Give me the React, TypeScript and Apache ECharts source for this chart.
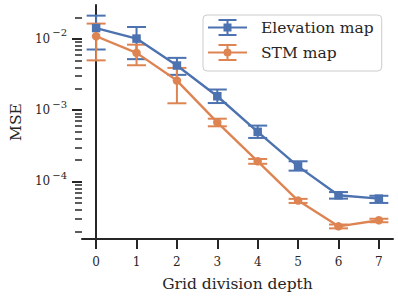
import React, { useEffect, useRef } from "react";
import * as echarts from "echarts";

const depth = [0, 1, 2, 3, 4, 5, 6, 7];
const elevMean = [0.0142, 0.0101, 0.00423, 0.00157, 0.000497, 0.000163, 0.000064, 0.0000575];
const elevLow = [0.0071, 0.0052, 0.00313, 0.00126, 0.000408, 0.000142, 0.0000575, 0.00005];
const elevHigh = [0.0212, 0.0147, 0.00542, 0.00195, 0.000608, 0.000192, 0.000071, 0.000063];
const stmMean = [0.0109, 0.00637, 0.0026, 0.000676, 0.000192, 0.000054, 0.0000235, 0.0000286];
const stmLow = [0.005, 0.00427, 0.00125, 0.000594, 0.000177, 0.00005, 0.000022, 0.0000268];
const stmHigh = [0.0164, 0.0083, 0.00392, 0.00076, 0.000207, 0.000057, 0.0000249, 0.00003];
const majorExponents = [-4, -3, -2];
const xTicks = [0, 1, 2, 3, 4, 5, 6, 7];
const seriesNames = ["Elevation map", "STM map"];

const BLUE = "#4C72B0";
const ORANGE = "#DD8452";
const INK = "#262626";
const FONT = "DejaVu Serif";
const YMIN = 1.56e-5;
const YMAX = 0.0299;

const ICON_BASE = "M0 7.5H39V9.5H0Z M18.5 0H20.5V17H18.5Z M10.5 0H28.5V2H10.5Z M10.5 15H28.5V17H10.5Z";
const ICON_SQUARE = "path://" + ICON_BASE + " M15.5 4.5H23.5V12.5H15.5Z";
const ICON_CIRCLE = "path://" + ICON_BASE + " M23.5 8.5A4 4 0 1 1 15.5 8.5A4 4 0 1 1 23.5 8.5Z";

function minorTicks(): number[] {
  const out: number[] = [];
  for (let n = -5; n <= -2; n++) {
    for (let k = 2; k <= 9; k++) {
      const v = Math.log10(k * Math.pow(10, n));
      if (v >= Math.log10(YMIN) && v <= Math.log10(YMAX)) out.push(v);
    }
  }
  return out;
}

function errSeries(name: string, low: number[], high: number[], color: string) {
  return {
    type: "custom",
    name,
    xAxisIndex: 0,
    yAxisIndex: 0,
    encode: { x: 0, y: [1, 2] },
    data: depth.map((d, i) => [d, low[i], high[i]]),
    renderItem: (_p: any, api: any) => {
      const x = api.value(0);
      const pLo = api.coord([x, api.value(1)]);
      const pHi = api.coord([x, api.value(2)]);
      const hw = 9.5;
      const style = { stroke: color, lineWidth: 2 };
      return {
        type: "group",
        children: [
          { type: "line", shape: { x1: pHi[0], y1: pHi[1], x2: pLo[0], y2: pLo[1] }, style },
          { type: "line", shape: { x1: pHi[0] - hw, y1: pHi[1], x2: pHi[0] + hw, y2: pHi[1] }, style },
          { type: "line", shape: { x1: pLo[0] - hw, y1: pLo[1], x2: pLo[0] + hw, y2: pLo[1] }, style },
        ],
      };
    },
  };
}

export default function App() {
  const ref = useRef<HTMLDivElement>(null);
  useEffect(() => {
    if (!ref.current) return;
    const chart = echarts.init(ref.current, null, { renderer: "svg" });
    const lmin = Math.log10(YMIN);
    const lmax = Math.log10(YMAX);
    chart.setOption({
      animation: false,
      backgroundColor: "#ffffff",
      grid: { left: 79, right: 5, top: 5, bottom: 60 },
      legend: {
        orient: "vertical",
        left: 203,
        top: 15,
        padding: [4, 8, 10, 5],
        itemWidth: 39,
        itemHeight: 17,
        itemGap: 8,
        borderColor: "#cccccc",
        borderWidth: 1,
        borderRadius: 4,
        backgroundColor: "#ffffff",
        textStyle: { fontFamily: FONT, fontSize: 15.5, color: INK, padding: [0, 0, 0, 9] },
        data: [
          { name: seriesNames[0], icon: ICON_SQUARE, itemStyle: { color: BLUE, borderWidth: 0 } },
          { name: seriesNames[1], icon: ICON_CIRCLE, itemStyle: { color: ORANGE, borderWidth: 0 } },
        ],
      },
      xAxis: {
        type: "value",
        min: -0.35,
        max: 7.35,
        name: "Grid division depth",
        nameLocation: "middle",
        nameGap: 37,
        nameTextStyle: { fontFamily: FONT, fontSize: 15.5, color: INK },
        axisLine: { show: true, lineStyle: { color: INK, width: 2 } },
        axisTick: { show: true, customValues: xTicks, length: 10, lineStyle: { color: INK, width: 2 } },
        axisLabel: { customValues: xTicks, margin: 17, fontFamily: FONT, fontSize: 12, color: INK },
        splitLine: { show: false },
      },
      yAxis: [
        {
          type: "log",
          logBase: 10,
          min: YMIN,
          max: YMAX,
          name: "MSE",
          nameLocation: "middle",
          nameGap: 58,
          nameRotate: 90,
          nameTextStyle: { fontFamily: FONT, fontSize: 15.5, color: INK },
          axisLine: { show: true, lineStyle: { color: INK, width: 2 } },
          axisTick: { show: false },
          axisLabel: { show: false },
          splitLine: { show: false },
          minorTick: { show: false },
        },
        {
          type: "value",
          min: lmin,
          max: lmax,
          position: "left",
          axisLine: { show: false },
          axisTick: { show: true, customValues: majorExponents, length: 10, lineStyle: { color: INK, width: 2 } },
          axisLabel: {
            customValues: majorExponents,
            margin: 15,
            formatter: (v: number) => `{b|10}{s|\u2212${Math.round(-v)}}`,
            rich: {
              b: { fontFamily: FONT, fontSize: 12, color: INK, lineHeight: 22 },
              s: { fontFamily: FONT, fontSize: 10, color: INK, lineHeight: 10, verticalAlign: "top", padding: [0, 0, 0, 2] },
            },
          },
          splitLine: { show: false },
        },
        {
          type: "value",
          min: lmin,
          max: lmax,
          position: "left",
          axisLine: { show: false },
          axisTick: { show: true, customValues: minorTicks(), length: 7, lineStyle: { color: INK, width: 1.5 } },
          axisLabel: { show: false },
          splitLine: { show: false },
        },
      ],
      series: [
        errSeries("Elevation err", elevLow, elevHigh, BLUE),
        {
          type: "line",
          name: seriesNames[0],
          data: depth.map((d, i) => [d, elevMean[i]]),
          symbol: "rect",
          symbolSize: 8.5,
          lineStyle: { color: BLUE, width: 2.4 },
          itemStyle: { color: BLUE, borderWidth: 0 },
        },
        errSeries("STM err", stmLow, stmHigh, ORANGE),
        {
          type: "line",
          name: seriesNames[1],
          data: depth.map((d, i) => [d, stmMean[i]]),
          symbol: "circle",
          symbolSize: 8.5,
          lineStyle: { color: ORANGE, width: 2.4 },
          itemStyle: { color: ORANGE, borderWidth: 0 },
        },
      ],
    });
    return () => chart.dispose();
  }, []);
  return <div ref={ref} style={{ position: "absolute", left: 0, top: 0, width: 398, height: 299 }} />;
}
